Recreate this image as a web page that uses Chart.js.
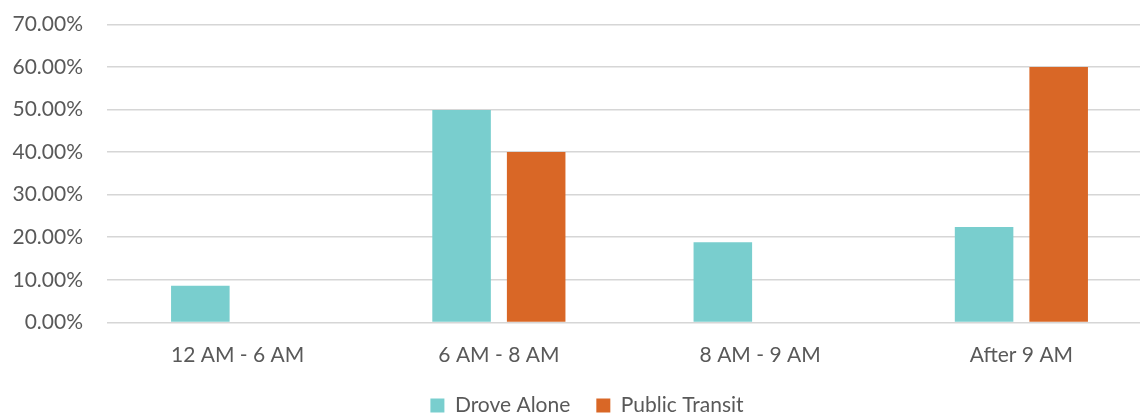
<!DOCTYPE html>
<html lang="en">

<head>
    <meta charset="UTF-8">
    <script src="https://cdn.jsdelivr.net/npm/chart.js"></script>
    <title>Commute start time</title>
    <style>
        html, body { margin: 0; padding: 0; background: #fff; overflow: hidden; }
        #grafico { display: block; }
    </style>
</head>

<body>
    <canvas id="grafico" width="1152" height="426"></canvas>

    <script>
        // categorias e valores (em %)
        const categorias = ['12 AM - 6 AM', '6 AM - 8 AM', '8 AM - 9 AM', 'After 9 AM']
        const droveAlone = [8.6, 49.9, 18.8, 22.4]
        const publicTransit = [0, 40, 0, 60]
        const nomesSeries = ['Drove Alone', 'Public Transit']

        const corTexto = '#595959'
        const fonte = { family: 'Lato', size: 21 }

        const data = {
            labels: categorias,
            datasets: [{
                label: nomesSeries[0],
                data: droveAlone,
                backgroundColor: '#79CECE',
                barPercentage: 0.785,
                categoryPercentage: 0.571
            }, {
                label: nomesSeries[1],
                data: publicTransit,
                backgroundColor: '#D96726',
                barPercentage: 0.785,
                categoryPercentage: 0.571
            }]
        };

        // empurra a legenda um pouco para a direita
        const moverLegenda = {
            id: 'moverLegenda',
            afterLayout: function (chart) {
                chart.legend.left += 22
            }
        }

        const config = {
            type: 'bar',
            data: data,
            plugins: [moverLegenda],
            options: {
                responsive: false,
                animation: false,
                layout: {
                    padding: { left: 0, top: 0, right: 0, bottom: 0 }
                },
                plugins: {
                    tooltip: { enabled: false },
                    legend: {
                        position: 'bottom',
                        labels: {
                            color: corTexto,
                            font: fonte,
                            boxWidth: 14,
                            boxHeight: 14,
                            padding: 26
                        }
                    }
                },
                scales: {
                    x: {
                        afterFit: function (escala) { escala.height = 46.6 },
                        grid: { display: false },
                        border: { display: false },
                        ticks: { color: corTexto, font: fonte, padding: 12 }
                    },
                    y: {
                        min: 0,
                        max: 70,
                        afterFit: function (escala) {
                            escala.width = 107
                            escala.paddingTop = 24.3
                        },
                        grid: { color: '#d6d6d6', lineWidth: 1.5, drawTicks: false },
                        border: { display: false },
                        ticks: {
                            stepSize: 10,
                            color: corTexto,
                            font: fonte,
                            padding: 24,
                            callback: function (v) { return v.toFixed(2) + '%' }
                        }
                    }
                }
            }
        };

        var myChart = new Chart(document.getElementById('grafico'), config);
    </script>
</body>

</html>
